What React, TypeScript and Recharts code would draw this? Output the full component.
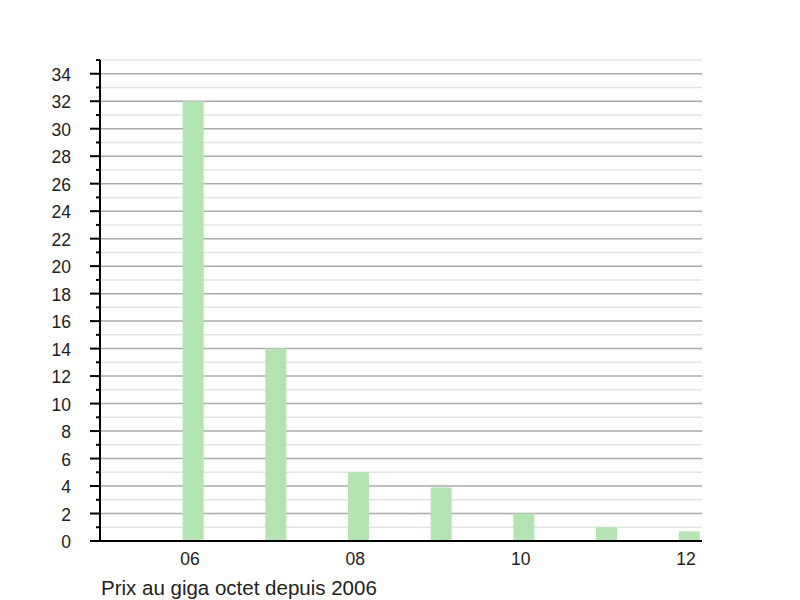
import React from 'react';
import { BarChart, Bar, XAxis, YAxis, CartesianGrid, Customized } from 'recharts';

const categories = ['06', '07', '08', '09', '10', '11', '12'];
const years = [6, 7, 8, 9, 10, 11, 12];
const prices = [32, 14, 5, 3.9, 2, 1, 0.7];
const xTickValues = [6, 8, 10, 12];
const yTickValues = [0, 1, 2, 3, 4, 5, 6, 7, 8, 9, 10, 11, 12, 13, 14, 15, 16, 17, 18, 19, 20, 21, 22, 23, 24, 25, 26, 27, 28, 29, 30, 31, 32, 33, 34, 35];
const yMajorLabels = [0, 2, 4, 6, 8, 10, 12, 14, 16, 18, 20, 22, 24, 26, 28, 30, 32, 34];
const title = 'Prix au giga octet depuis 2006';

const data = years.map((y, i) => ({ year: y, label: categories[i], price: prices[i] }));
const majorGrid = yTickValues.filter((v) => v > 0 && v % 2 === 0);
const minorGrid = yTickValues.filter((v) => v % 2 === 1);

const FONT = 'Liberation Sans, Arial, Helvetica, sans-serif';

const YTick = (props: any) => {
  const { x, y, payload } = props;
  const v = payload.value;
  const major = v % 2 === 0;
  return (
    <g>
      <line x1={x - (major ? 10 : 4)} x2={x} y1={y} y2={y} stroke="#000" strokeWidth={2} />
      {yMajorLabels.includes(v) && (
        <text x={x - 29} y={y} dy="0.4em" textAnchor="end" fontSize={17.5} fill="#222" fontFamily={FONT}>
          {v}
        </text>
      )}
    </g>
  );
};

const XTick = (props: any) => {
  const { x, y, payload } = props;
  const idx = years.indexOf(payload.value);
  return (
    <text x={x - 3} y={y + 3} dy="0.75em" textAnchor="middle" fontSize={17.5} fill="#222" fontFamily={FONT}>
      {idx >= 0 ? categories[idx] : payload.value}
    </text>
  );
};

const Title = (props: any) => {
  const off = props.offset || { left: 100 };
  return (
    <text x={off.left + 1} y={594.5} fontSize={20.5} fill="#222" fontFamily={FONT}>
      {title}
    </text>
  );
};

export default function App() {
  return (
    <div style={{ position: 'absolute', left: 0, top: 0, width: 800, height: 600, background: '#fff' }}>
      <BarChart width={800} height={600} data={data} margin={{ top: 60, right: 98, bottom: 29, left: 0 }}>
        <CartesianGrid vertical={false} horizontalValues={minorGrid} stroke="#e3e3e3" strokeWidth={1.5} />
        <CartesianGrid vertical={false} horizontalValues={majorGrid} stroke="#ababab" strokeWidth={1.5} />
        <XAxis
          type="number"
          dataKey="year"
          domain={[4.875, 12.157]}
          allowDataOverflow
          ticks={xTickValues}
          interval={0}
          tickLine={false}
          axisLine={{ stroke: '#000', strokeWidth: 2 }}
          tick={<XTick />}
          height={30}
        />
        <YAxis
          type="number"
          domain={[0, 35]}
          ticks={yTickValues}
          interval={0}
          width={100}
          tickSize={0}
          tickMargin={0}
          tickLine={false}
          axisLine={{ stroke: '#000', strokeWidth: 2 }}
          tick={<YTick />}
        />
        <Bar dataKey="price" fill="#b3e4b1" barSize={21} isAnimationActive={false} />
        <Customized component={Title} />
      </BarChart>
    </div>
  );
}
